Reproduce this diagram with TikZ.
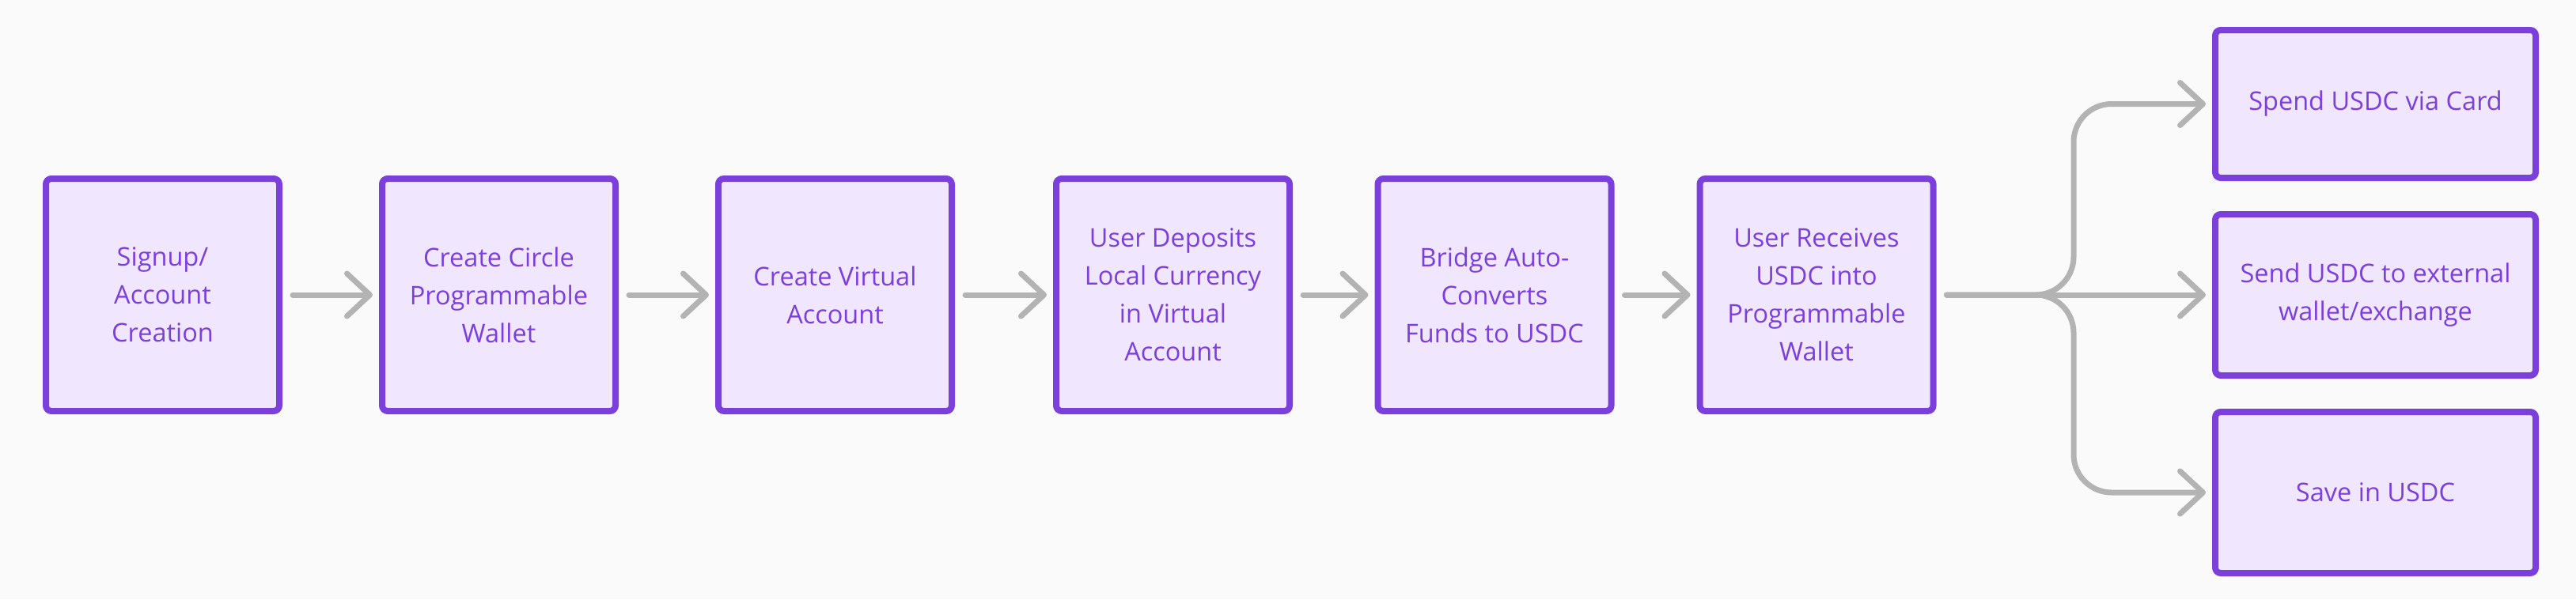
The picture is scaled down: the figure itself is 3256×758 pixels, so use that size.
\documentclass[tikz,border=0pt]{standalone}
\usepackage{fontspec}
\setmainfont{Open Sans}
\usetikzlibrary{arrows.meta,calc}
\definecolor{bgc}{HTML}{FAFAFA}
\definecolor{boxfill}{HTML}{F0E6FD}
\definecolor{boxline}{HTML}{7B3FDC}
\definecolor{txt}{HTML}{7B3FE0}
\definecolor{arrc}{HTML}{B3B3B3}
\begin{document}
\begin{tikzpicture}[x=1pt,y=-1pt,
  stepbox/.style={draw=boxline, fill=boxfill, line width=8pt, rounded corners=7pt,
    minimum width=295pt, minimum height=294pt, align=center, text=txt,
    font=\fontsize{32.5}{48}\selectfont, inner sep=0pt},
  widebox/.style={stepbox, minimum width=405pt},
  arr/.style={draw=arrc, line width=7pt, line cap=round,
    -{Straight Barb[length=29pt,width=54pt,round]}, shorten <=13pt, shorten >=8pt}]
\useasboundingbox[fill=bgc] (0,0) rectangle (3256,758);
\node[stepbox] (b1) at (205.5,373) {Signup/\\Account\\Creation};
\node[stepbox] (b2) at (630.5,373) {Create Circle\\Programmable\\Wallet};
\node[stepbox] (b3) at (1055.5,373) {Create Virtual\\Account};
\node[stepbox] (b4) at (1482.5,373) {User Deposits\\Local Currency\\in Virtual\\Account};
\node[stepbox] (b5) at (1889,373) {Bridge Auto-\\Converts\\Funds to USDC};
\node[stepbox] (b6) at (2296,373) {User Receives\\USDC into\\Programmable\\Wallet};
\node[widebox, minimum height=187pt] (r1) at (3002.5,131.5) {Spend USDC via Card};
\node[widebox, minimum height=204pt] (r2) at (3002.5,373) {Send USDC to external\\wallet/exchange};
\node[widebox, minimum height=204pt] (r3) at (3002.5,623) {Save in USDC};
\coordinate (j) at (2621,373);
\draw[arr] (b1) -- (b2);
\draw[arr] (b2) -- (b3);
\draw[arr] (b3) -- (b4);
\draw[arr] (b4) -- (b5);
\draw[arr] (b5) -- (b6);
\draw[arr] (b6) -- (r2);
\draw[arr, rounded corners=48pt] (b6.east) -- (j) |- (r1.west);
\draw[arr, rounded corners=48pt] (b6.east) -- (j) |- (r3.west);
\end{tikzpicture}
\end{document}
